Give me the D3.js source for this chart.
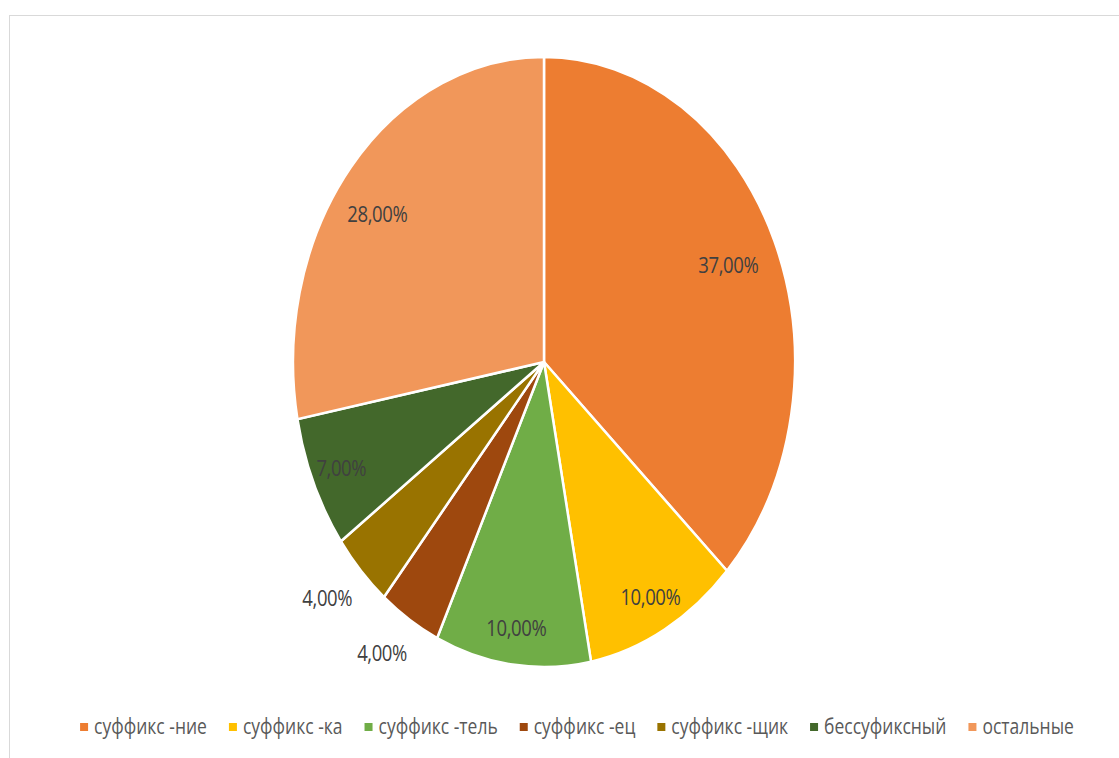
<!DOCTYPE html>
<html>
<head>
<meta charset="utf-8">
<script src="https://cdn.jsdelivr.net/npm/d3@7"></script>
<style>
  body { margin: 0; background: #fff; }
  text { font-family: "Open Sans", "Noto Sans", sans-serif; fill: #404040; }
  .legend text { fill: #595959; }
</style>
</head>
<body>
<div id="container"></div>
<script>
/** DATA */
const categories = ["суффикс -ние", "суффикс -ка", "суффикс -тель", "суффикс -ец", "суффикс -щик", "бессуфиксный", "остальные"];
const shares = [37, 10, 10, 4, 4, 7, 28];
const labels = ["37,00%", "10,00%", "10,00%", "4,00%", "4,00%", "7,00%", "28,00%"];
const colors = ["#ED7D31", "#FFC000", "#70AD47", "#9E480E", "#997300", "#43682B", "#F1975A"];

/** CONSTANTS */
const width = 1119,
  height = 758,
  cx = 544, cy = 362,
  rx = 251, ry = 305,
  stretch = ry / rx;

const data = categories.map((c, i) => ({ name: c, value: shares[i], label: labels[i], color: colors[i] }));

const svg = d3.select("#container")
  .append("svg")
  .attr("width", width)
  .attr("height", height);

// chart border
svg.append("rect")
  .attr("x", 9.5).attr("y", 15.5)
  .attr("width", width + 20).attr("height", height + 20)
  .attr("fill", "none")
  .attr("stroke", "#d9d9d9");

const pie = d3.pie().value(d => d.value).sort(null);
const arcs = pie(data);
const arc = d3.arc().innerRadius(0).outerRadius(rx);

// pie drawn as a circle then stretched vertically
svg.append("g")
  .attr("transform", `translate(${cx},${cy}) scale(1,${stretch})`)
  .selectAll("path")
  .data(arcs)
  .join("path")
  .attr("d", arc)
  .attr("fill", d => d.data.color)
  .attr("stroke", "#fff")
  .attr("stroke-width", 2.5)
  .attr("vector-effect", "non-scaling-stroke");

// data labels
svg.append("g")
  .selectAll("text")
  .data(arcs)
  .join("text")
  .attr("transform", d => {
    const a = (d.startAngle + d.endAngle) / 2;
    const f = d.data.value < 5 ? 1.13 : (d.data.value > 20 ? 0.8 : 0.88);
    let x = cx + f * rx * Math.sin(a);
    let y = cy - f * ry * Math.cos(a);
    if (d.data.value < 5) x -= 10; // outside labels sit a bit further left
    if (d.data.value > 20 && a > Math.PI) { x -= 12; y += 8; } // best-fit nudge
    return `translate(${x},${y}) scale(1,1.2)`;
  })
  .attr("text-anchor", "middle")
  .attr("dy", "0.35em")
  .style("font-size", "18.5px")
  .style("letter-spacing", "-0.4px")
  .text(d => d.data.label);

// legend
const legend = svg.append("g").attr("class", "legend").attr("transform", "translate(0,727)");
const items = legend.selectAll("g")
  .data(data)
  .join("g");

items.append("rect")
  .attr("y", -4).attr("width", 8).attr("height", 8)
  .attr("fill", d => d.color);

items.append("text")
  .attr("x", 14)
  .attr("dy", "0.35em")
  .attr("transform", "scale(1,1.2)")
  .style("font-size", "17.5px")
  .text(d => d.name);

// lay out legend items in one centred row
let xpos = 0;
const gap = 22;
items.each(function () {
  const w = this.getBBox().width;
  d3.select(this).attr("data-x", xpos);
  xpos += w + gap;
});
const total = xpos - gap;
const start = 577 - total / 2;
items.attr("transform", function () {
  return `translate(${start + (+this.getAttribute("data-x"))},0)`;
});
</script>
</body>
</html>
